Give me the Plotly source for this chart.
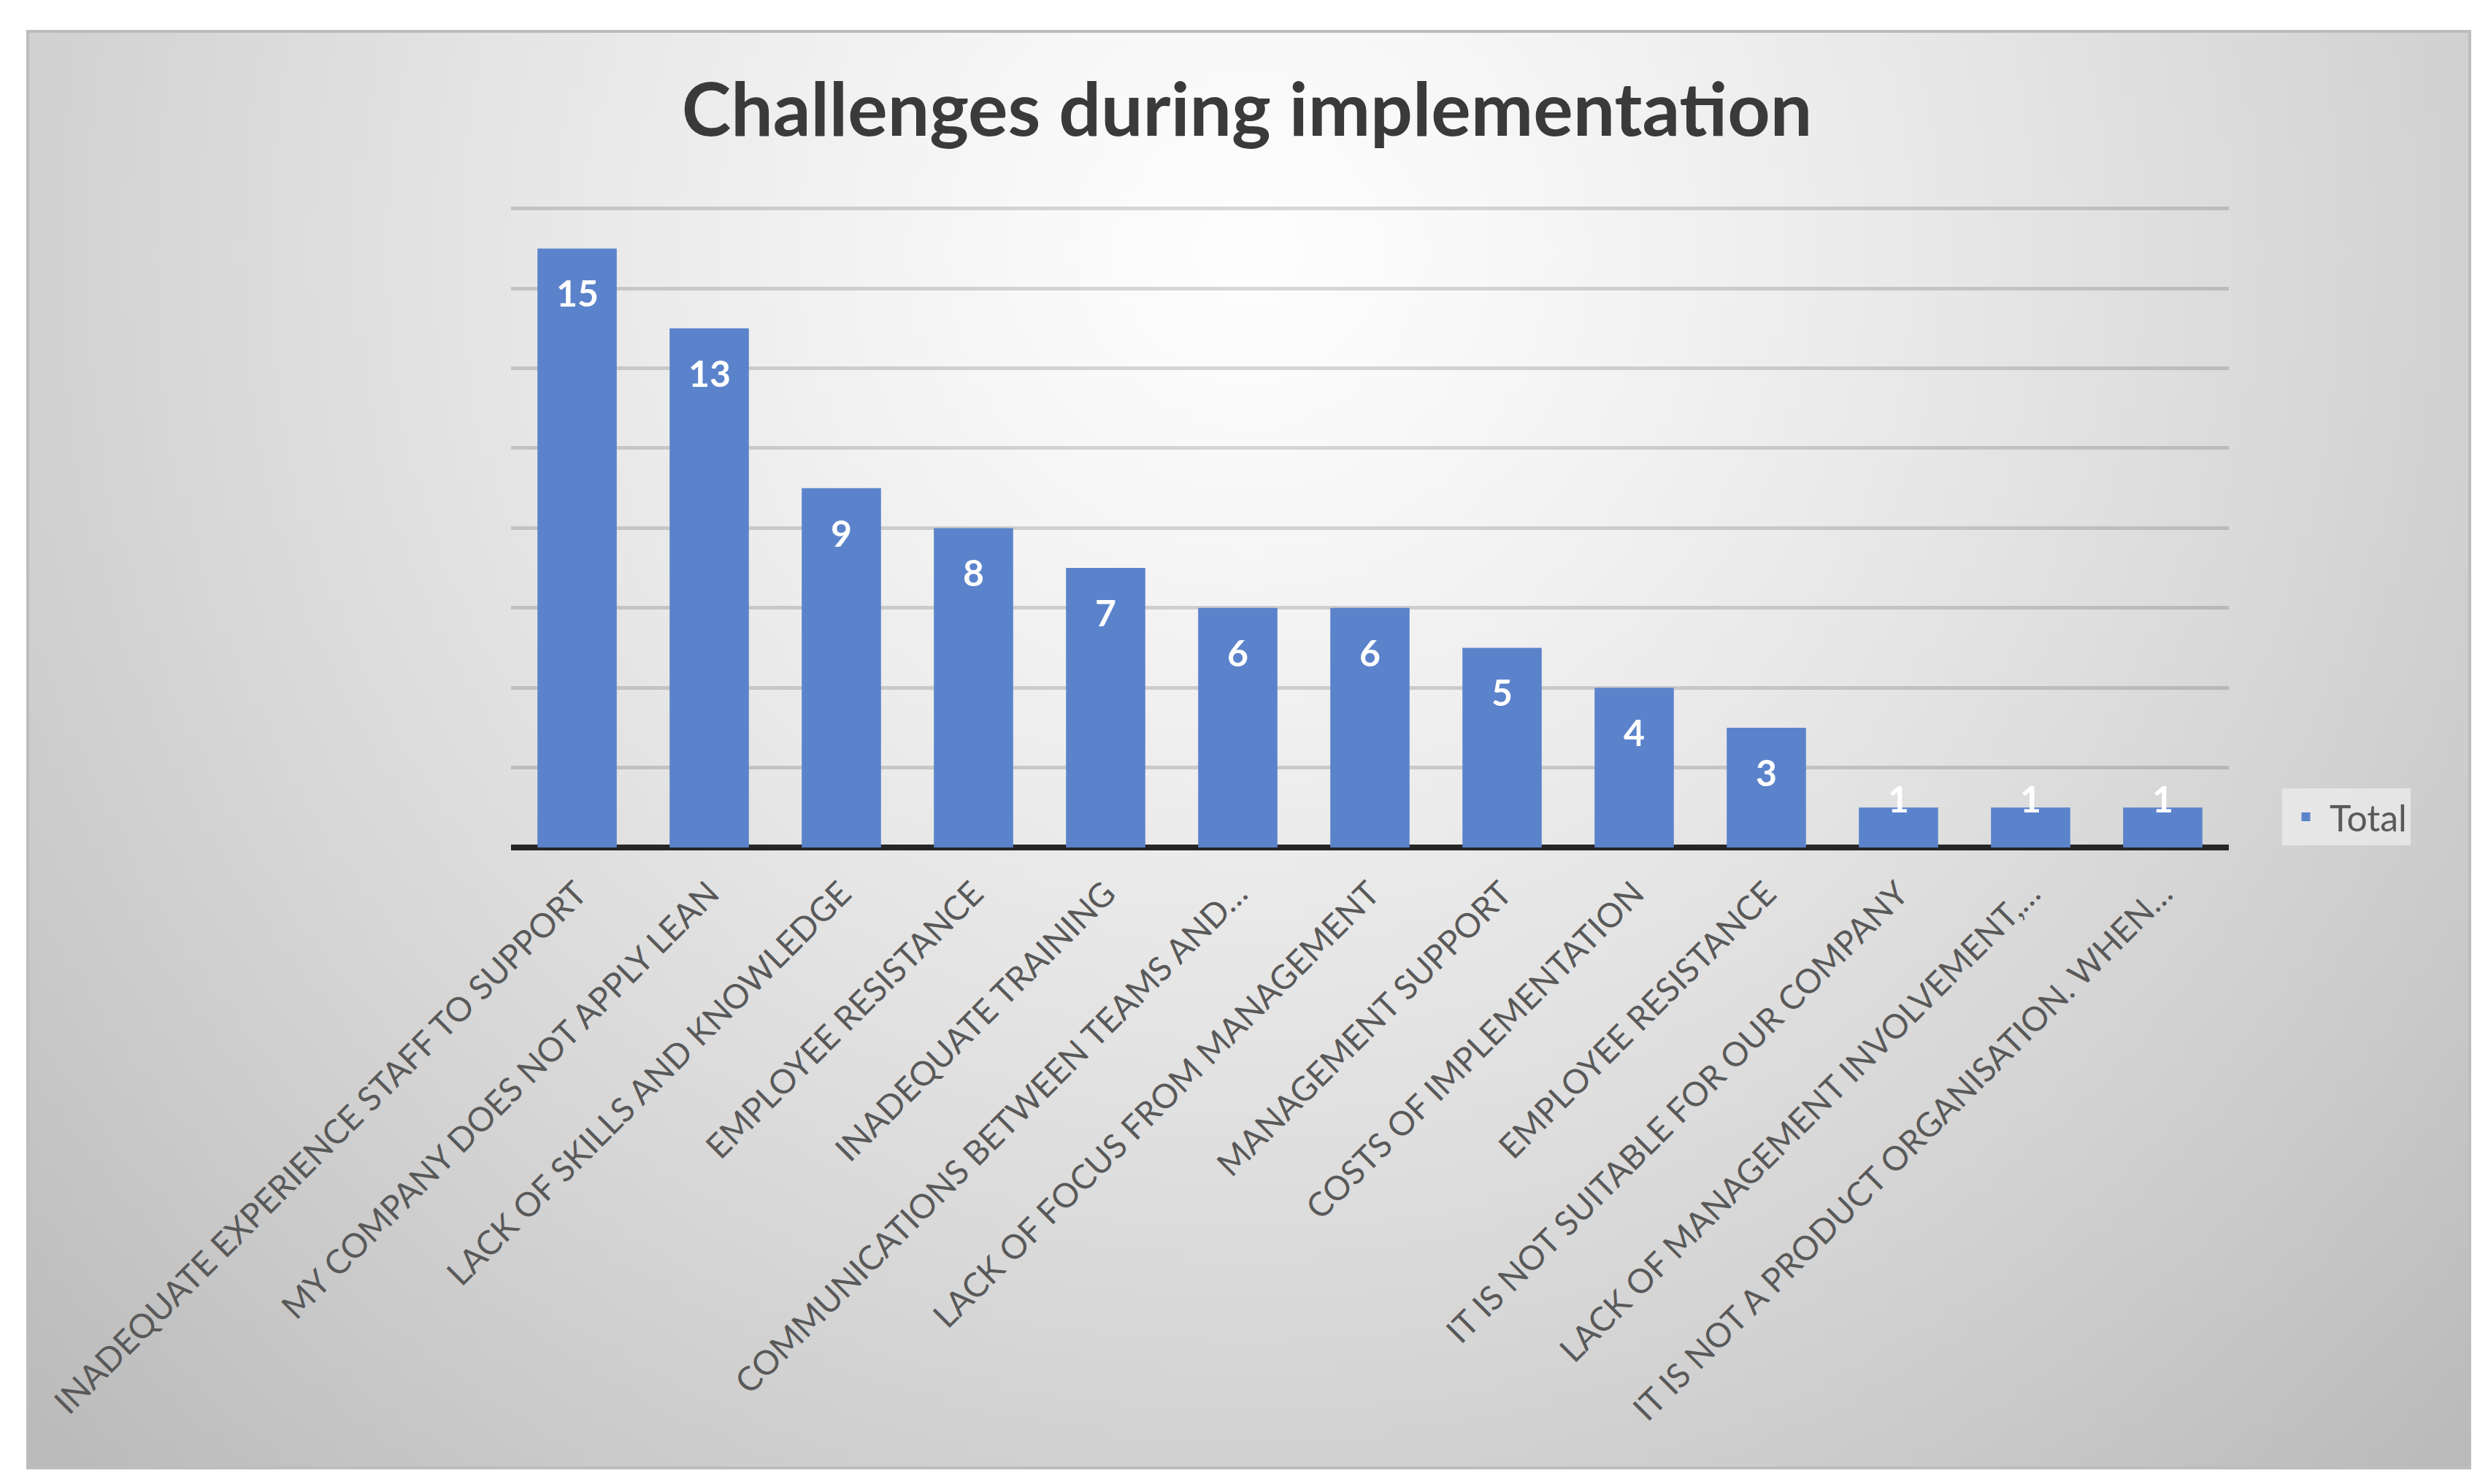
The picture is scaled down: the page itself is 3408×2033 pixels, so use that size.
import numpy as np, zlib, struct, base64
import plotly.graph_objects as go

# ---------------- data ----------------
categories = [
    "INADEQUATE EXPERIENCE STAFF TO SUPPORT",
    "MY COMPANY DOES NOT APPLY LEAN",
    "LACK OF SKILLS AND KNOWLEDGE",
    "EMPLOYEE RESISTANCE",
    "INADEQUATE TRAINING",
    "COMMUNICATIONS BETWEEN TEAMS AND…",
    "LACK OF FOCUS FROM MANAGEMENT",
    "MANAGEMENT SUPPORT",
    "COSTS OF IMPLEMENTATION",
    "EMPLOYEE RESISTANCE",
    "IT IS NOT SUITABLE FOR OUR COMPANY",
    "LACK OF MANAGEMENT INVOLVEMENT,…",
    "IT IS NOT A PRODUCT ORGANISATION. WHEN…",
]
totals = [15, 13, 9, 8, 7, 6, 6, 5, 4, 3, 1, 1, 1]
series_name = "Total"
title_text = "Challenges during implementation"
y_max = 16
y_step = 2

# ---------------- layout geometry ----------------
W, H = 3408, 2033
L, R, T, B = 692, 363, 276, 880
PW, PH = W - L - R, H - T - B

def px_x(px):
    return (px - L) / PW

def px_y(py):
    return (H - B - py) / PH

# ---------------- background gradient image ----------------
def png_gray(arr):
    h, w = arr.shape
    raw = b"".join(b"\x00" + arr[i].tobytes() for i in range(h))
    def chunk(t, d):
        c = struct.pack(">I", len(d)) + t + d
        return c + struct.pack(">I", zlib.crc32(t + d) & 0xFFFFFFFF)
    png = (b"\x89PNG\r\n\x1a\n"
           + chunk(b"IHDR", struct.pack(">IIBBBBB", w, h, 8, 0, 0, 0, 0))
           + chunk(b"IDAT", zlib.compress(raw))
           + chunk(b"IEND", b""))
    return "data:image/png;base64," + base64.b64encode(png).decode()

GW, GH = 240, 140
gx = np.linspace(0, 1, GW)[None, :]
gy = np.linspace(0, 1, GH)[:, None]
d = np.sqrt(((gx - 0.5) / 0.5) ** 2 + ((gy - 0.15) / 0.85) ** 2)
grad = np.clip(254 - 44 * d ** 1.25, 0, 255).astype(np.uint8)
bg_src = png_gray(grad)

CX0, CY0, CX1, CY1 = 30, 35, 3375, 2003  # chart area box in pixels

# ---------------- figure ----------------
xpos = list(range(len(categories)))
fig = go.Figure()
fig.add_trace(go.Bar(
    x=xpos, y=totals, name=series_name,
    marker=dict(color="#5b83cb", line=dict(width=0)),
    showlegend=True,
))

# data labels
PX_PER_UNIT = PH / y_max
for xi, v in zip(xpos, totals):
    shift = -61 if v * PX_PER_UNIT >= 122 else 12
    fig.add_annotation(
        x=xi, y=v, xref="x", yref="y", text=str(v), showarrow=False,
        yshift=shift, yanchor="middle",
        font=dict(family="Lato", size=50, color="white", weight="bold"),
    )

fig.update_layout(
    width=W, height=H,
    margin=dict(l=L, r=R, t=T, b=B),
    paper_bgcolor="white",
    plot_bgcolor="rgba(0,0,0,0)",
    bargap=0.40,
    font=dict(family="Lato", color="#595959"),
    title=dict(
        text=title_text, x=1700 / W, xref="container", xanchor="center",
        y=1 - 142 / H, yref="container", yanchor="middle",
        font=dict(family="Lato", size=102, color="#3a3a3a", weight="bold"),
    ),
    xaxis=dict(
        tickmode="array", tickvals=xpos, ticktext=categories,
        tickangle=-45, tickfont=dict(family="Lato", size=46, color="#595959"),
        showgrid=False, showline=False, zeroline=False, ticks="",
        ticklabelstandoff=26,
        range=[-0.5, len(categories) - 0.5],
    ),
    yaxis=dict(
        range=[0, y_max * 1.002], dtick=y_step, tick0=0,
        showticklabels=False, ticks="",
        showgrid=True, gridcolor="rgba(0,0,0,0.15)", gridwidth=5,
        zeroline=True, zerolinecolor="#262626", zerolinewidth=8,
        showline=False,
    ),
    legend=dict(
        x=px_x(3118), xanchor="left", y=px_y(1111), yanchor="middle",
        bgcolor="rgba(236,236,236,0.75)", borderwidth=0,
        itemwidth=55,
        font=dict(family="Lato", size=50, color="#595959"),
    ),
    images=[dict(
        source=bg_src, xref="paper", yref="paper",
        x=px_x(CX0), y=px_y(CY0),
        sizex=px_x(CX1) - px_x(CX0), sizey=px_y(CY0) - px_y(CY1),
        xanchor="left", yanchor="top", sizing="stretch", layer="below",
    )],
    shapes=[dict(
        type="rect", xref="paper", yref="paper",
        x0=px_x(CX0), x1=px_x(CX1), y0=px_y(CY1), y1=px_y(CY0),
        line=dict(color="#bdbdbd", width=4), layer="below",
    )],
)

fig.write_html("out.html")
